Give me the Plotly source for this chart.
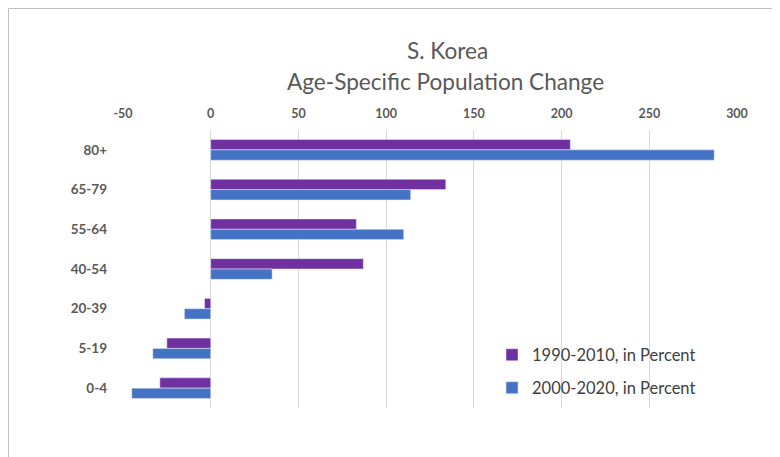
import plotly.graph_objects as go

categories = ["80+", "65-79", "55-64", "40-54", "20-39", "5-19", "0-4"]
s1990_2010 = [205, 134, 83, 87, -3.5, -25, -29]
s2000_2020 = [287, 114, 110, 35, -15, -33, -45]
name1 = "1990-2010, in Percent"
name2 = "2000-2020, in Percent"
title_lines = ["S. Korea", "Age-Specific Population Change"]
tick_vals = [-50, 0, 50, 100, 150, 200, 250, 300]
tick_text = ["-50", "0", "50", "100", "150", "200", "250", "300"]

FONT = "Lato, Open Sans, sans-serif"
GRAY = "#595959"

W, H = 772, 449
L, R, T, B = 115, 43, 122, 49
PH = H - T - B


def py(px):
    return 1 - (px - T) / PH


fig = go.Figure()
fig.add_trace(go.Bar(y=categories, x=s1990_2010, orientation="h", name=name1,
                     marker=dict(color="#7030A0"), legend="legend"))
fig.add_trace(go.Bar(y=categories, x=s2000_2020, orientation="h", name=name2,
                     marker=dict(color="#4472C4"), legend="legend2"))

fig.update_layout(
    width=W, height=H,
    margin=dict(l=L, r=R, t=T, b=B),
    paper_bgcolor="white", plot_bgcolor="white",
    barmode="group", bargap=0.48, bargroupgap=0,
    showlegend=True,
    font=dict(family=FONT, color=GRAY),
    xaxis=dict(side="top", range=[-50, 300], tickvals=tick_vals, ticktext=tick_text,
               showgrid=True, gridcolor="#D9D9D9", gridwidth=1,
               zeroline=True, zerolinecolor="#D9D9D9", zerolinewidth=1,
               showline=False, ticks="", ticklabelstandoff=9,
               tickfont=dict(family=FONT, size=12.5, color=GRAY, weight="bold")),
    yaxis=dict(autorange="reversed", showgrid=False, showline=False, ticks="",
               ticklabelstandoff=15,
               tickfont=dict(family=FONT, size=13.5, color=GRAY, weight="bold")),
    legend=dict(x=0.601, y=py(347), xanchor="left", yanchor="middle",
                itemwidth=30, bgcolor="rgba(0,0,0,0)",
                font=dict(family=FONT, size=16.5, color="#404040")),
    legend2=dict(x=0.601, y=py(380), xanchor="left", yanchor="middle",
                 itemwidth=30, bgcolor="rgba(0,0,0,0)",
                 font=dict(family=FONT, size=16.5, color="#404040")),
    annotations=[
        dict(text=title_lines[0], xref="paper", yref="paper", x=0.528, y=py(42),
             xanchor="center", yanchor="middle", showarrow=False,
             font=dict(family=FONT, size=22.6, color=GRAY)),
        dict(text=title_lines[1], xref="paper", yref="paper", x=0.526, y=py(73),
             xanchor="center", yanchor="middle", showarrow=False,
             font=dict(family=FONT, size=22.6, color=GRAY)),
    ],
    shapes=[dict(type="rect", xref="paper", yref="paper",
                 x0=(0.5 - L) / (W - L - R), x1=1.5, y0=-0.5, y1=py(0.5),
                 line=dict(color="#BFBFBF", width=1), fillcolor="rgba(0,0,0,0)",
                 layer="below")],
)

fig.write_html("out.html")
